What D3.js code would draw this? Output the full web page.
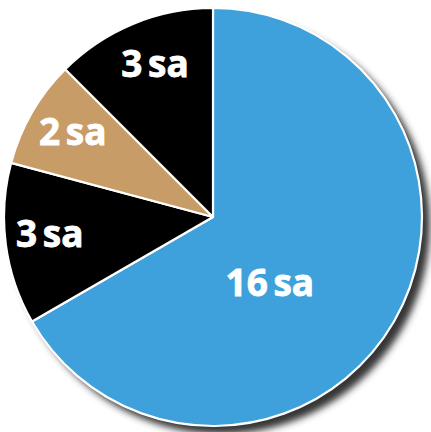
<!DOCTYPE html>
<html>
<head>
<meta charset="utf-8">
<script src="https://cdn.jsdelivr.net/npm/d3@7"></script>
<style>
  html, body { margin: 0; padding: 0; background: #fff; }
  svg { display: block; }
</style>
</head>
<body>
<svg id="chart" width="431" height="432"></svg>
<script>
// Data (clockwise from 12 o'clock)
const categories = ["A", "B", "C", "D"];
const values = [16, 3, 2, 3];
const labels = ["16 sa", "3 sa", "2 sa", "3 sa"];
const colors = ["#3fa1db", "#000000", "#c89c66", "#000000"];

const W = 431, H = 432;
const cx = 213, cy = 217, R = 209;

const svg = d3.select("#chart");
const defs = svg.append("defs");
const f = defs.append("filter").attr("id", "shadow")
  .attr("x", "-20%").attr("y", "-20%").attr("width", "140%").attr("height", "140%");
f.append("feGaussianBlur").attr("stdDeviation", 3.5);

const g = svg.append("g").attr("transform", `translate(${cx},${cy})`);

// drop shadow
g.append("circle")
  .attr("cx", 8).attr("cy", 8).attr("r", R)
  .attr("fill", "#353535")
  .attr("filter", "url(#shadow)");

const pie = d3.pie().sort(null).value(d => d.value);
const data = pie(categories.map((c, i) => ({ cat: c, value: values[i], label: labels[i], color: colors[i] })));

const arc = d3.arc().innerRadius(0).outerRadius(R);

g.selectAll("path.slice")
  .data(data)
  .join("path")
  .attr("class", "slice")
  .attr("d", arc)
  .attr("fill", d => d.data.color)
  .attr("stroke", "#fff")
  .attr("stroke-width", 2.2)
  .attr("stroke-linejoin", "round");

// labels
function labelPos(d) {
  const big = (d.endAngle - d.startAngle) > Math.PI;
  const r = big ? 87 : 164;
  const a = d.startAngle + (big ? 0.58 : 0.54) * (d.endAngle - d.startAngle);
  return [r * Math.sin(a), -r * Math.cos(a)];
}

g.selectAll("text.lbl")
  .data(data)
  .join("text")
  .attr("class", "lbl")
  .attr("x", d => labelPos(d)[0])
  .attr("y", d => labelPos(d)[1])
  .attr("dy", "0.36em")
  .attr("text-anchor", "middle")
  .attr("fill", "#fff")
  .attr("stroke", "#fff")
  .attr("stroke-width", 0.8)
  .style("font-family", "'Open Sans', sans-serif")
  .style("font-weight", 700)
  .style("font-size", "37px")
  .style("word-spacing", "-4px")
  .text(d => d.data.label);
</script>
</body>
</html>
